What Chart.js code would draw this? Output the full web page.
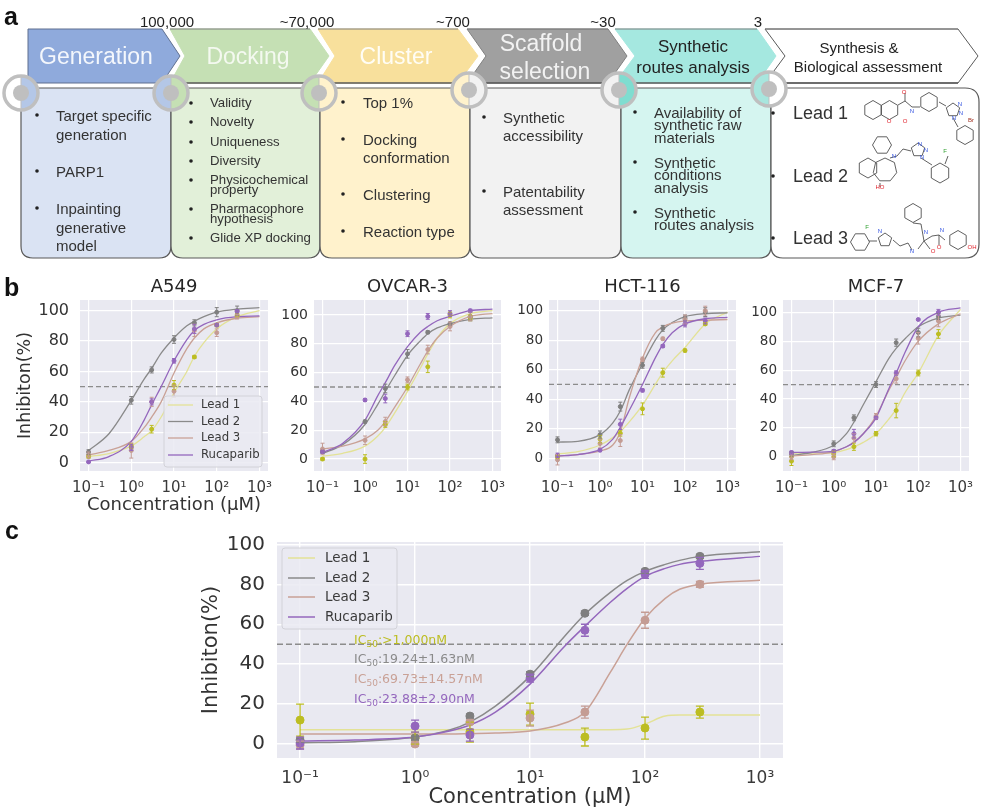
<!DOCTYPE html>
<html>
<head>
<meta charset="utf-8">
<title>Lead generation workflow and inhibition curves</title>
<script src="https://cdn.jsdelivr.net/npm/chart.js@4/dist/chart.umd.min.js"></script>
<style>
html, body { margin: 0; padding: 0; background: #fff; width: 983px; height: 810px; overflow: hidden; }
#page { position: relative; width: 983px; height: 810px; font-family: "Liberation Sans", Arial, sans-serif; color: #333; filter: blur(0.35px); }
#flow { position: absolute; left: 0; top: 0; }
#page canvas { position: absolute; }
.t { position: absolute; white-space: nowrap; line-height: 1; transform: translateY(-50%); }
.c { transform: translate(-50%, -50%); }
.letter { font-weight: bold; font-size: 25px; color: #111; }
.ic { font-family: "DejaVu Sans", sans-serif; font-size: 12.5px; z-index: 5; }
.ic sub { font-size: 9px; line-height: 0; }
</style>
</head>
<body>
<div id="page">
<svg id="flow" width="983" height="265" xmlns="http://www.w3.org/2000/svg"></svg>
</div>
<script>
const legendLabels = ['Lead 1', 'Lead 2', 'Lead 3', 'Rucaparib'];
const xTickValues = [0.1, 1, 10, 100, 1000];
const xTickLabels = ['10⁻¹', '10⁰', '10¹', '10²', '10³'];
const yTickValues = [0, 20, 40, 60, 80, 100];
const pointConc = [0.1, 1, 3, 10, 30, 100, 300];
const curveConc = [0.1, 0.3, 1, 2, 3, 5, 10, 20, 30, 50, 100, 300, 1000];
const summaryCurveConc = [0.1, 0.3, 1, 2, 3, 5, 10, 20, 30, 50, 70, 100, 150, 200, 300, 1000];

// A549
const a549Lead1Curve = [4, 6, 11, 17, 21, 30, 46, 60, 70, 79, 88, 96, 100];
const a549Lead2Curve = [8, 19, 41, 55, 62, 72, 82, 90, 93, 96, 99, 101, 102];
const a549Lead3Curve = [5, 8, 14, 23, 30, 40, 59, 75, 82, 88, 92, 95, 96];
const a549RucaCurve = [1, 4, 14, 28, 38, 50, 67, 81, 87, 91, 94, 96, 96.5];
const a549Lead1Points = [4, 11, 22, 51, 69.5, 90.5, 97];
const a549Lead2Points = [7, 41, 61, 81, 92, 99, 100];
const a549Lead3Points = [5, 8, 40, 47, 87, 85.5, 96];
const a549RucaPoints = [0.5, 10, 40, 67, 88, 90.5, 99.5];
const a549Lead1Err = [1, 1.5, 2.5, 3, 1, 1, 1];
const a549Lead2Err = [1.5, 2.5, 2, 2.5, 2, 3, 3];
const a549Lead3Err = [2, 5, 3, 4, 4, 2.5, 1.5];
const a549RucaErr = [0.5, 2, 2, 1.5, 3, 1, 1];

// OVCAR-3
const ovcarLead1Curve = [2, 4, 9, 16, 22, 32, 47, 63, 73, 84, 94, 101, 103];
const ovcarLead2Curve = [4, 10, 24, 38, 47, 58, 72, 82, 87, 91, 94, 97, 98];
const ovcarLead3Curve = [7, 9, 14, 20, 26, 36, 50, 66, 75, 84, 92, 99, 101];
const ovcarRucaCurve = [4.5, 11, 27, 44, 53, 65, 78, 88, 92, 96, 99, 103, 104];
const ovcarLead1Points = [0, 0, 24, 50, 64, 100, 98];
const ovcarLead2Points = [5, 26, 49, 73, 88, 94, 99];
const ovcarLead3Points = [7, 13, 26, 55, 76, 92, 99];
const ovcarRucaPoints = [5, 41, 42, 87, 99, 101, 103];
const ovcarLead1Err = [1, 3, 2, 2, 4, 2, 2];
const ovcarLead2Err = [1, 1, 3, 3, 1, 1, 3];
const ovcarLead3Err = [4, 3, 3, 2, 3, 3, 3];
const ovcarRucaErr = [1, 1, 3, 2, 2, 2, 1];

// HCT-116
const hctLead1Curve = [3, 4.5, 9, 14, 18, 25, 36, 50, 58, 66, 75, 91, 99];
const hctLead2Curve = [11, 11.5, 16, 24, 32, 47, 64, 80, 87, 92, 96, 98, 98.5];
const hctLead3Curve = [1.5, 2.5, 5, 9, 18, 42, 68, 85, 89, 91.5, 93, 93.5, 94];
const hctRucaCurve = [1.5, 2.5, 6, 13, 21, 33, 50, 68, 77, 85, 91, 94.5, 95.5];
const hctLead1Points = [1, 13, 17, 33.5, 58, 73, 91];
const hctLead2Points = [12.5, 16, 35, 63, 88, 95, 99];
const hctLead3Points = [-1, 10, 12, 67, 81, 94, 100];
const hctRucaPoints = [2, 5.5, 23, 46, 76, 91, 93];
const hctLead1Err = [1, 2.5, 2, 4, 3, 1, 1];
const hctLead2Err = [2, 2.5, 3, 2, 2, 2, 3];
const hctLead3Err = [3.5, 3, 4, 1.5, 1, 3, 3];
const hctRucaErr = [1.5, 1, 3.5, 1, 1, 2, 2];

// MCF-7
const mcfLead1Curve = [2.5, 2.5, 3, 5, 7, 10, 16, 26, 33, 45, 58, 84, 102];
const mcfLead2Curve = [1, 3, 8, 16, 24, 36, 52, 68, 75, 82, 90, 96, 98];
const mcfLead3Curve = [0.5, 1.5, 3.5, 7, 10, 16, 28, 46, 55, 67, 80, 92, 99];
const mcfRucaCurve = [3, 3.2, 4, 7, 10, 16, 27, 47, 58, 73, 90, 100, 103];
const mcfLead1Points = [-3, 2, 7, 16, 32, 58, 85];
const mcfLead2Points = [2, 9, 27, 50, 79, 86, 97];
const mcfLead3Points = [0, 0, 13, 28, 54, 82, 94];
const mcfRucaPoints = [3, 4, 16, 27, 58, 95, 100];
const mcfLead1Err = [3, 2, 2.5, 1.5, 5, 2, 3];
const mcfLead2Err = [1.5, 2, 2, 2, 2.5, 3, 2];
const mcfLead3Err = [2, 2, 3, 2, 3, 4, 4];
const mcfRucaErr = [1, 1, 3, 1, 1.5, 0.5, 2];

// summary panel
const sumLead1Curve = [7.2, 7.2, 7.2, 7.2, 7.2, 7.2, 7.2, 7.2, 7.2, 7.2, 7.5, 10, 14, 14.5, 14.5, 14.5];
const sumLead2Curve = [0.7, 1.2, 3.5, 7, 11, 19, 34, 54, 65, 76, 82, 86.5, 90, 92, 94, 96.3];
const sumLead3Curve = [5, 5, 5, 5, 5.2, 5.5, 6.5, 10.5, 16, 36, 50, 63, 73, 77.5, 80, 82];
const sumRucaCurve = [1.5, 2, 3.5, 6.5, 9.5, 16, 30, 49, 59, 71, 78, 84, 88, 90, 91.5, 94];
const sumLead1Points = [12, 3, 6, 15, 3.5, 8, 16];
const sumLead2Points = [2, 3, 14, 35, 65.5, 86.5, 94];
const sumLead3Points = [-0.5, 0, 11, 13, 16, 62, 80];
const sumRucaPoints = [0.5, 9, 4.5, 33, 57, 85, 90.5];
const sumLead1Err = [8, 3, 5, 5.5, 4.5, 5.5, 3];
const sumLead2Err = [1, 1, 1, 1.2, 1, 1, 1];
const sumLead3Err = [2, 1, 1, 4, 3, 4, 1.5];
const sumRucaErr = [3, 3, 3, 2, 3, 2, 3];

const curveColors = ['#E3E296', '#8A8A8A', '#C9A196', '#9467BD'];
const pointColors = ['#BCBD22', '#7F7F7F', '#C49C94', '#9467BD'];
const xMin = 0.063;
const xMax = 1585;
const page = document.getElementById('page');

// error bars go through the same scales as the points
const errorBarPlugin = {
    id: 'errorBars',
    afterDatasetsDraw(chart) {
        const { ctx, scales } = chart;
        chart.data.datasets.forEach((ds) => {
            if (!ds.errors) return;
            ctx.save();
            ctx.strokeStyle = ds.backgroundColor;
            ctx.lineWidth = ds.errorWidth;
            ds.data.forEach((p, i) => {
                const x = scales.x.getPixelForValue(p.x);
                const top = scales.y.getPixelForValue(p.y + ds.errors[i]);
                const bot = scales.y.getPixelForValue(p.y - ds.errors[i]);
                ctx.beginPath();
                ctx.moveTo(x, top); ctx.lineTo(x, bot);
                ctx.moveTo(x - ds.capSize, top); ctx.lineTo(x + ds.capSize, top);
                ctx.moveTo(x - ds.capSize, bot); ctx.lineTo(x + ds.capSize, bot);
                ctx.stroke();
            });
            ctx.restore();
        });
    }
};

const plotBackgroundPlugin = {
    id: 'plotBackground',
    beforeDraw(chart) {
        const a = chart.chartArea;
        chart.ctx.fillStyle = '#E9E9F1';
        chart.ctx.fillRect(a.left, a.top, a.right - a.left, a.bottom - a.top);
    }
};

// legend box placed freely inside the axes, like matplotlib does
const insideLegendPlugin = {
    id: 'insideLegend',
    afterDraw(chart, args, opts) {
        if (!opts.box) return;
        const { ctx } = chart;
        const r = chart.canvas.getBoundingClientRect();
        const b = opts.box;
        ctx.save();
        ctx.fillStyle = 'rgba(234,234,242,0.85)';
        ctx.strokeStyle = '#D2D2D8';
        ctx.lineWidth = 1;
        ctx.beginPath();
        ctx.roundRect(b.l - r.left, b.t - r.top, b.r - b.l, b.b - b.t, 3);
        ctx.fill();
        ctx.stroke();
        ctx.font = opts.fontSize + 'px "DejaVu Sans"';
        ctx.textBaseline = 'middle';
        legendLabels.forEach((label, i) => {
            const y = b.rows[i] - r.top;
            ctx.strokeStyle = curveColors[i];
            ctx.lineWidth = opts.lineWidth;
            ctx.beginPath();
            ctx.moveTo(b.lineL - r.left, y);
            ctx.lineTo(b.lineR - r.left, y);
            ctx.stroke();
            ctx.fillStyle = '#3A3A3A';
            ctx.fillText(label, b.textL - r.left, y);
        });
        ctx.restore();
    }
};

function toPoints(xs, ys) {
    return xs.map((x, i) => ({ x, y: ys[i] }));
}

function drawPanel(cfg) {
    const padRight = 18;
    const titleSpace = cfg.title ? 28 : 14;
    const left = cfg.plot.l - cfg.yWidth;
    const top = cfg.plot.t - titleSpace;
    const canvas = document.createElement('canvas');
    canvas.width = cfg.plot.r - left + padRight;
    canvas.height = cfg.plot.b + cfg.xHeight - top;
    canvas.style.left = left + 'px';
    canvas.style.top = top + 'px';
    canvas.style.width = canvas.width + 'px';
    canvas.style.height = canvas.height + 'px';
    page.appendChild(canvas);

    const datasets = [{
        data: toPoints([xMin, xMax], [50, 50]),
        borderColor: '#8C8C8C',
        borderWidth: cfg.lineWidth,
        borderDash: cfg.dash,
        pointRadius: 0,
        order: 9
    }];
    cfg.curves.forEach((values, i) => {
        datasets.push({
            data: toPoints(cfg.curveX, values),
            borderColor: curveColors[i],
            borderWidth: cfg.lineWidth,
            cubicInterpolationMode: 'monotone',
            pointRadius: 0,
            order: 8 - i
        });
        datasets.push({
            data: toPoints(pointConc, cfg.points[i]),
            errors: cfg.errors[i],
            errorWidth: cfg.errorWidth,
            capSize: cfg.capSize,
            showLine: false,
            backgroundColor: pointColors[i],
            borderColor: pointColors[i],
            pointRadius: cfg.pointRadius,
            order: 4 - i
        });
    });

    new Chart(canvas, {
        type: 'line',
        data: { datasets },
        options: {
            responsive: false,
            animation: false,
            events: [],
            layout: { padding: { top: cfg.title ? 0 : titleSpace, right: padRight } },
            plugins: {
                legend: { display: false },
                tooltip: { enabled: false },
                title: {
                    display: !!cfg.title,
                    text: cfg.title,
                    fullSize: false,
                    color: '#262626',
                    font: { size: 18, weight: 'normal' },
                    padding: { top: 4.4, bottom: 2 }
                },
                insideLegend: cfg.legend || {}
            },
            scales: {
                x: {
                    type: 'logarithmic',
                    min: xMin,
                    max: xMax,
                    afterBuildTicks: (scale) => { scale.ticks = xTickValues.map((value) => ({ value, major: true })); },
                    afterFit: (scale) => { scale.height = cfg.xHeight; scale.paddingLeft = 0; scale.paddingRight = 0; },
                    grid: { color: '#FFFFFF', lineWidth: cfg.gridWidth, drawTicks: false },
                    border: { display: false },
                    ticks: {
                        autoSkip: false,
                        maxRotation: 0,
                        padding: cfg.xTickPad,
                        color: '#3A3A3A',
                        font: { size: cfg.xTickSize },
                        callback: (value) => xTickLabels[xTickValues.indexOf(value)]
                    },
                    title: {
                        display: !!cfg.xTitle,
                        text: cfg.xTitle,
                        color: '#333333',
                        padding: 0,
                        font: { size: cfg.xTitleSize }
                    }
                },
                y: {
                    min: cfg.yMin,
                    max: cfg.yMax,
                    afterBuildTicks: (scale) => { scale.ticks = yTickValues.map((value) => ({ value })); },
                    afterFit: (scale) => { scale.width = cfg.yWidth; scale.paddingTop = 0; scale.paddingBottom = 0; },
                    grid: { color: '#FFFFFF', lineWidth: cfg.gridWidth, drawTicks: false },
                    border: { display: false },
                    ticks: {
                        padding: cfg.yTickPad,
                        color: '#333333',
                        font: { size: cfg.yTickSize }
                    },
                    title: {
                        display: !!cfg.yTitle,
                        text: cfg.yTitle,
                        color: '#333333',
                        padding: 0,
                        font: { size: cfg.yTitleSize }
                    }
                }
            }
        },
        plugins: [plotBackgroundPlugin, errorBarPlugin, insideLegendPlugin]
    });
}

Chart.defaults.font.family = '"DejaVu Sans", sans-serif';

const smallPanel = {
    curveX: curveConc, lineWidth: 1.3, dash: [5, 3], errorWidth: 1, capSize: 2, pointRadius: 2,
    gridWidth: 1.2, xHeight: 45, xTickSize: 15, xTickPad: 8, yTickPad: 6, xTitleSize: 18, yTitleSize: 17.5
};

drawPanel({
    ...smallPanel, title: 'A549', xTitle: 'Concentration (µM)', yTitle: 'Inhibiton(%)',
    plot: { l: 80, t: 300, r: 268, b: 471 }, yWidth: 65, yMin: -5.5, yMax: 107, yTickSize: 16, yTickPad: 11,
    curves: [a549Lead1Curve, a549Lead2Curve, a549Lead3Curve, a549RucaCurve],
    points: [a549Lead1Points, a549Lead2Points, a549Lead3Points, a549RucaPoints],
    errors: [a549Lead1Err, a549Lead2Err, a549Lead3Err, a549RucaErr],
    legend: {
        fontSize: 11.7, lineWidth: 1.3,
        box: { l: 164, t: 396, r: 262, b: 467, rows: [405, 421.5, 438, 455], lineL: 168, lineR: 193, textL: 201 }
    }
});
drawPanel({
    ...smallPanel, title: 'OVCAR-3',
    plot: { l: 314, t: 300, r: 501, b: 471 }, yWidth: 42, yMin: -8.3, yMax: 110.4, yTickSize: 14,
    curves: [ovcarLead1Curve, ovcarLead2Curve, ovcarLead3Curve, ovcarRucaCurve],
    points: [ovcarLead1Points, ovcarLead2Points, ovcarLead3Points, ovcarRucaPoints],
    errors: [ovcarLead1Err, ovcarLead2Err, ovcarLead3Err, ovcarRucaErr]
});
drawPanel({
    ...smallPanel, title: 'HCT-116',
    plot: { l: 549, t: 300, r: 736, b: 471 }, yWidth: 40, yMin: -8.6, yMax: 107.2, yTickSize: 13.5,
    curves: [hctLead1Curve, hctLead2Curve, hctLead3Curve, hctRucaCurve],
    points: [hctLead1Points, hctLead2Points, hctLead3Points, hctRucaPoints],
    errors: [hctLead1Err, hctLead2Err, hctLead3Err, hctRucaErr]
});
drawPanel({
    ...smallPanel, title: 'MCF-7',
    plot: { l: 783, t: 300, r: 969, b: 471 }, yWidth: 40, yMin: -9.8, yMax: 108.5, yTickSize: 13.5,
    curves: [mcfLead1Curve, mcfLead2Curve, mcfLead3Curve, mcfRucaCurve],
    points: [mcfLead1Points, mcfLead2Points, mcfLead3Points, mcfRucaPoints],
    errors: [mcfLead1Err, mcfLead2Err, mcfLead3Err, mcfRucaErr]
});
drawPanel({
    curveX: summaryCurveConc, lineWidth: 1.5, dash: [6, 3], errorWidth: 1.3, capSize: 4, pointRadius: 4,
    gridWidth: 1.4, xHeight: 52, xTickSize: 17, xTickPad: 10, yTickPad: 12, xTitleSize: 21, yTitleSize: 21,
    xTitle: 'Concentration (µM)', yTitle: 'Inhibiton(%)',
    plot: { l: 277, t: 542, r: 783, b: 758 }, yWidth: 78, yMin: -7, yMax: 101.2, yTickSize: 20,
    curves: [sumLead1Curve, sumLead2Curve, sumLead3Curve, sumRucaCurve],
    points: [sumLead1Points, sumLead2Points, sumLead3Points, sumRucaPoints],
    errors: [sumLead1Err, sumLead2Err, sumLead3Err, sumRucaErr],
    legend: {
        fontSize: 13.5, lineWidth: 1.5,
        box: { l: 282, t: 548, r: 397, b: 629, rows: [558, 578, 597, 617], lineL: 288, lineR: 315, textL: 325 }
    }
});

// workflow diagram
const svgNs = 'http://www.w3.org/2000/svg';
const flow = document.getElementById('flow');

function shape(name, attrs, text) {
    const el = document.createElementNS(svgNs, name);
    Object.keys(attrs).forEach((k) => el.setAttribute(k, attrs[k]));
    if (text) el.textContent = text;
    flow.appendChild(el);
    return el;
}

function label(text, x, y, size, color, centered, cls) {
    const el = document.createElement('div');
    el.className = 't' + (centered ? ' c' : '') + (cls ? ' ' + cls : '');
    el.style.left = x + 'px';
    el.style.top = y + 'px';
    if (size) el.style.fontSize = size + 'px';
    if (color) el.style.color = color;
    el.innerHTML = text;
    page.appendChild(el);
}

function bottomRounded(x0, x1, fill, r) {
    const d = `M${x0} 88 H${x1} V${258 - r} Q${x1} 258 ${x1 - r} 258 H${x0 + r} Q${x0} 258 ${x0} ${258 - r} Z`;
    shape('path', { d, fill, stroke: '#595959', 'stroke-width': 1.2 });
}

bottomRounded(21, 171, '#DAE3F3', 12);
bottomRounded(171, 320, '#E2F0D9', 12);
bottomRounded(320, 470, '#FFF2CC', 12);
bottomRounded(470, 621, '#F2F2F2', 12);
bottomRounded(621, 771, '#D5F5F0', 12);
shape('path', {
    d: 'M771 88 H965 Q979 88 979 102 V244 Q979 258 965 258 H783 Q771 258 771 246 Z',
    fill: '#FFFFFF', stroke: '#595959', 'stroke-width': 1.2
});

function chevron(x0, notch, x1, tip, fill, stroke) {
    const pts = `${x0},29 ${x1},29 ${tip},56 ${x1},83 ${x0},83 ${notch},56`;
    shape('polygon', { points: pts, fill, stroke, 'stroke-width': 1 });
    shape('line', { x1: x0, y1: 83, x2: x1, y2: 83, stroke: '#595959', 'stroke-width': 1.6 });
    shape('line', { x1: x0, y1: 29, x2: x1, y2: 29, stroke: '#7F7F7F', 'stroke-width': 1 });
}

shape('polygon', { points: '28,29 162,29 180,56 162,83 28,83', fill: '#8FAADC', stroke: '#5F6F8F', 'stroke-width': 1 });
chevron(170, 185, 310, 329, '#C5E0B4', '#C5E0B4');
chevron(318, 335, 458, 478, '#F8E09C', '#F8E09C');
chevron(467, 486, 608, 627, '#A0A0A0', '#808080');
chevron(615, 635, 757, 776, '#A5E8E0', '#A5E8E0');
chevron(765, 785, 958, 978, '#FFFFFF', '#595959');

function ringNode(cx, cy, leftFill, rightFill) {
    const r = 17;
    shape('path', { d: `M${cx} ${cy - r} A${r} ${r} 0 0 0 ${cx} ${cy + r} Z`, fill: leftFill });
    shape('path', { d: `M${cx} ${cy - r} A${r} ${r} 0 0 1 ${cx} ${cy + r} Z`, fill: rightFill });
    shape('circle', { cx, cy, r, fill: 'none', stroke: '#BFBFBF', 'stroke-width': 3.5 });
    shape('line', { x1: cx, y1: cy - r, x2: cx, y2: cy + r, stroke: '#BFBFBF', 'stroke-width': 1 });
    shape('circle', { cx, cy, r: 8, fill: '#BFBFBF' });
}

ringNode(21, 93, '#FFFFFF', '#B4C7E7');
ringNode(171, 93, '#B4C7E7', '#C5E0B4');
ringNode(319, 93, '#C5E0B4', '#FFF2CC');
ringNode(469, 90, '#FFF2CC', '#F2F2F2');
ringNode(619, 90, '#F2F2F2', '#7FDDD0');
ringNode(769, 89, '#A8E6DE', '#FFFFFF');

label('a', 4, 16, 0, '', false, 'letter');
label('b', 4, 287, 0, '', false, 'letter');
label('c', 5, 530, 0, '', false, 'letter');

[['100,000', 167], ['~70,000', 307], ['~700', 453], ['~30', 603], ['3', 758]].forEach(([t, x]) => {
    label(t, x, 21, 15, '#222', true);
});

label('Generation', 96, 56, 23, '#F4F7FC', true);
label('Docking', 248, 56, 23, '#F4F9F0', true);
label('Cluster', 396, 56, 23, '#FFFDF5', true);
label('Scaffold', 541, 43, 23, '#F2F2F2', true);
label('selection', 545, 71, 23, '#F2F2F2', true);
label('Synthetic', 693, 46, 17, '#222', true);
label('routes analysis', 693, 67, 17, '#222', true);
label('Synthesis &amp;', 859, 47, 15, '#222', true);
label('Biological assessment', 868, 66, 15, '#222', true);

function bulletList(bulletX, textX, size, rows, bullets) {
    rows.forEach(([t, y]) => label(t, textX, y, size, '#333'));
    bullets.forEach((y) => shape('circle', { cx: bulletX, cy: y, r: 1.8, fill: '#222' }));
}

bulletList(37, 56, 15, [['Target specific', 115], ['generation', 134], ['PARP1', 171], ['Inpainting', 208], ['generative', 227], ['model', 245]], [115, 171, 208]);
bulletList(191, 210, 13.2, [['Validity', 103], ['Novelty', 122], ['Uniqueness', 142], ['Diversity', 161], ['Physicochemical', 180], ['property', 190], ['Pharmacophore', 209], ['hypothesis', 219], ['Glide XP docking', 238]], [103, 122, 142, 161, 180, 209, 238]);
bulletList(343, 363, 15, [['Top 1%', 102], ['Docking', 139], ['conformation', 157], ['Clustering', 194], ['Reaction type', 231]], [102, 139, 194, 231]);
bulletList(484, 503, 15, [['Synthetic', 117], ['accessibility', 135], ['Patentability', 191], ['assessment', 209]], [117, 191]);
bulletList(635, 654, 15, [['Availability of', 112], ['synthetic raw', 124], ['materials', 137], ['Synthetic', 162], ['conditions', 174], ['analysis', 187], ['Synthetic', 212], ['routes analysis', 224]], [112, 162, 212]);
bulletList(773, 793, 18, [['Lead 1', 113], ['Lead 2', 176], ['Lead 3', 238]], [113, 176, 238]);

// small structure sketches in the last box
function ring(cx, cy, r, n, rot) {
    const pts = [];
    for (let i = 0; i < n; i++) {
        const a = rot + (i * 2 * Math.PI) / n;
        pts.push((cx + r * Math.cos(a)).toFixed(1) + ',' + (cy + r * Math.sin(a)).toFixed(1));
    }
    shape('polygon', { points: pts.join(' '), fill: 'none', stroke: '#444', 'stroke-width': 0.85 });
}
function bond(d) {
    shape('path', { d, fill: 'none', stroke: '#444', 'stroke-width': 0.85 });
}
function atom(t, x, y, color) {
    shape('text', { x, y, fill: color, 'font-size': 6, 'text-anchor': 'middle', 'dominant-baseline': 'middle', 'font-family': 'Liberation Sans' }, t);
}
const hexRot = Math.PI / 6;
const pentRot = -Math.PI / 2;
// Lead 1
ring(873, 110, 9.5, 6, hexRot); ring(889.5, 110, 9.5, 6, hexRot); ring(929, 102, 9.5, 6, hexRot);
ring(953, 110, 7, 5, pentRot); ring(965, 135, 9.5, 6, hexRot);
bond('M898 105 L905 101 V93 M905 101 L912 107 L920 107 M939 102 L946 106 M953 118 L958 127');
atom('O', 904, 92, '#E0202A'); atom('N', 912, 111, '#3050E0'); atom('O', 889, 121, '#E0202A'); atom('O', 905, 121, '#E0202A');
atom('N', 960, 104, '#3050E0'); atom('N', 961, 113, '#3050E0'); atom('N', 954, 118, '#3050E0'); atom('Br', 971, 120, '#A03020');
// Lead 2
ring(882, 145, 9.5, 6, 0); ring(868, 168, 10, 6, hexRot); ring(885, 170, 12, 7, pentRot);
ring(918, 150, 7, 5, pentRot); ring(940, 173, 10, 6, hexRot);
bond('M890 158 L897 156 L903 149 L911 151 M921 158 L932 165 M945 164 L948 156 M880 183 V187');
atom('N', 894, 156, '#3050E0'); atom('F', 945, 151, '#30A030'); atom('HO', 880, 187, '#E0202A');
atom('N', 920, 144, '#3050E0'); atom('N', 926, 150, '#3050E0'); atom('N', 922, 157, '#3050E0');
// Lead 3
ring(860, 242, 9.5, 6, 0); ring(885, 240, 7, 5, pentRot); ring(913, 213, 9.5, 6, hexRot); ring(958, 240, 9.5, 6, hexRot);
bond('M869 241 L877 241 M893 240 L900 246 L908 243 L912 250 M918 249 L924 241 L921 224 L913 223 M924 241 L932 236 L939 235 L945 240 M939 235 V245 M924 241 L930 249');
atom('F', 867, 227, '#30A030'); atom('N', 880, 231, '#3050E0'); atom('N', 912, 251, '#3050E0'); atom('O', 933, 251, '#E0202A');
atom('N', 926, 232, '#3050E0'); atom('N', 942, 230, '#3050E0'); atom('O', 939, 247, '#E0202A'); atom('OH', 972, 247, '#E0202A');

// IC50 notes in the summary panel
label('IC<sub>50</sub>:&gt;1,000nM', 354, 640, 0, '#BCBD22', false, 'ic');
label('IC<sub>50</sub>:19.24±1.63nM', 354, 659, 0, '#8A8A8A', false, 'ic');
label('IC<sub>50</sub>:69.73±14.57nM', 354, 679, 0, '#C9A196', false, 'ic');
label('IC<sub>50</sub>:23.88±2.90nM', 354, 699, 0, '#9467BD', false, 'ic');
</script>
</body>
</html>
